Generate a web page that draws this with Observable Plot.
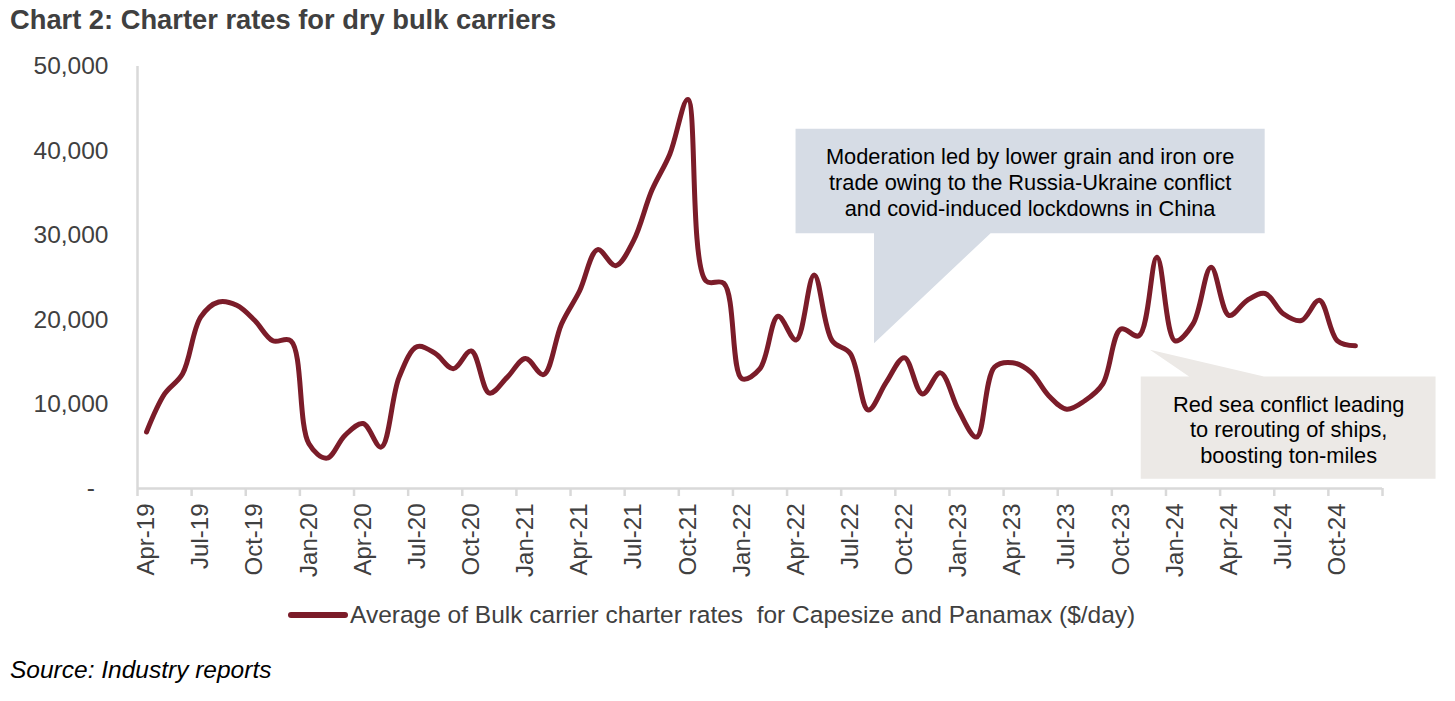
<!DOCTYPE html>
<html><head><meta charset="utf-8">
<script src="https://cdn.jsdelivr.net/npm/d3@7"></script>
<script src="https://cdn.jsdelivr.net/npm/@observablehq/plot@0.6"></script>
<style>
body{margin:0;background:#fff;font-family:"Liberation Sans",Arial,sans-serif;}
#wrap{position:relative;width:1455px;height:701px;overflow:hidden;background:#fff;}
#title{position:absolute;left:10px;top:5px;font-size:27.3px;font-weight:bold;color:#404040;line-height:30px;white-space:nowrap;}
#chart{position:absolute;left:0;top:40px;}
#legend{position:absolute;left:288px;top:600px;height:30px;display:flex;align-items:center;font-size:24.5px;color:#404040;white-space:pre;}
#legend svg{margin-right:2px;}
#caption{position:absolute;left:10px;top:655px;font-size:24.5px;font-style:italic;color:#000;line-height:30px;white-space:nowrap;}
</style></head><body>
<div id="wrap">
  <div id="title"></div>
  <div id="chart"></div>
  <div id="legend"></div>
  <div id="caption"></div>
</div>
<script>
const chartTitle = "Chart 2: Charter rates for dry bulk carriers";
const seriesName = "Average of Bulk carrier charter rates  for Capesize and Panamax ($/day)";
const sourceNote = "Source: Industry reports";

// Monthly values, Apr-19 .. Nov-24 ($/day)
const rates = [
  6700, 11200, 13600, 20300, 22100, 21700, 19900, 17500, 17500,          // Apr-19..Dec-19
  5300, 3600, 6300, 7700, 4900, 13200, 16800, 16000, 14200, 16300, 11300, 13200, // 2020
  15400, 13500, 19500, 23400, 28300, 26400, 29400, 35300, 39600, 46100, 24600, 24300, // 2021
  13000, 14200, 20400, 17600, 25300, 17500, 16000, 9300, 12600, 15500, 11200, 13700, // 2022
  9300, 6100, 14400, 14900, 13800, 11000, 9400, 10400, 12400, 18900, 18100, 27400,   // 2023
  17500, 19500, 26200, 20500, 22300, 23100, 20700, 19900, 22300, 17500, 16900        // 2024 (Jan..Nov)
];

const tickLabels = ["Apr-19","Jul-19","Oct-19","Jan-20","Apr-20","Jul-20","Oct-20","Jan-21",
  "Apr-21","Jul-21","Oct-21","Jan-22","Apr-22","Jul-22","Oct-22","Jan-23","Apr-23","Jul-23",
  "Oct-23","Jan-24","Apr-24","Jul-24","Oct-24"];
const yTicks = [0, 10000, 20000, 30000, 40000, 50000];

const calloutTexts = [
  "Moderation led by lower grain and iron ore\ntrade owing to the Russia-Ukraine conflict\nand covid-induced lockdowns in China",
  "Red sea conflict leading\nto rerouting of ships,\nboosting ton-miles"
];
// callout outlines in data units [monthIndex, value]
const callout1Shape = [[36.47,42620],[62.47,42620],[62.47,30250],[47.28,30250],[40.82,17220],[40.82,30250],[36.47,30250]];
const callout2Shape = [[55.60,13270],[58.28,13270],[56.11,16430],[62.43,13270],[71.94,13270],[71.94,1150],[55.60,1150]];
const calloutAnchors = [[49.47,36350],[63.80,7050]];
const calloutFills = ["#d6dce5","#ece9e6"];

const lineColor = "#7b1c29";
const axisColor = "#d9d9d9";
const textColor = "#404040";

document.getElementById("title").textContent = chartTitle;
document.getElementById("caption").textContent = sourceNote;
const leg = document.getElementById("legend");
leg.innerHTML = `<svg width="60" height="12"><line x1="3" y1="6" x2="57" y2="6" stroke="${lineColor}" stroke-width="6" stroke-linecap="round"/></svg><span></span>`;
leg.querySelector("span").textContent = seriesName;

const nMonths = tickLabels.length * 3; // axis spans 69 months (Apr-19 .. end of Dec-24)
const boundaries = d3.range(0, nMonths + 1, 3);
const labelPos = tickLabels.map((_, i) => i * 3 + 0.5);
const data = rates.map((v, i) => ({m: i + 0.5, v}));

const plot = Plot.plot({
  width: 1455,
  height: 560,
  marginTop: 26,
  marginBottom: 112,
  marginLeft: 137,
  marginRight: 73,
  style: {fontFamily: '"Liberation Sans", Arial, sans-serif', background: "transparent", overflow: "visible"},
  x: {type: "linear", domain: [0, nMonths], label: null},
  y: {domain: [0, 50000], label: null},
  marks: [
    Plot.line(callout1Shape, {x: d => d[0], y: d => d[1], fill: calloutFills[0], stroke: "none", curve: "linear-closed", clip: false}),
    Plot.line(callout2Shape, {x: d => d[0], y: d => d[1], fill: calloutFills[1], stroke: "none", curve: "linear-closed", clip: false}),
    Plot.ruleX([0], {y1: 0, y2: 50000, stroke: axisColor, strokeWidth: 2.5}),
    Plot.ruleY([0], {x1: 0, x2: nMonths, stroke: axisColor, strokeWidth: 2.5}),
    Plot.axisX({ticks: boundaries, tickSize: 8, tickFormat: () => "", stroke: axisColor, strokeWidth: 2.5, label: null}),
    Plot.axisX({ticks: labelPos, tickSize: 0, tickPadding: 15, tickRotate: -90,
      tickFormat: d => tickLabels[Math.round((d - 0.5) / 3)], fontSize: 24, fill: textColor, label: null}),
    Plot.axisY({ticks: yTicks, tickSize: 0, tickPadding: 29,
      tickFormat: d => d === 0 ? "-\u00a0\u00a0" : d3.format(",")(d), fontSize: 24.5, fill: textColor, label: null}),
    Plot.line(data, {x: "m", y: "v", stroke: lineColor, strokeWidth: 5, curve: "catmull-rom", strokeLinecap: "round", strokeLinejoin: "round"}),
    Plot.text(calloutTexts, {x: (d, i) => calloutAnchors[i][0], y: (d, i) => calloutAnchors[i][1], text: d => d,
      fontSize: 21.8, lineHeight: 1.18, fill: "#000", textAnchor: "middle", lineAnchor: "middle"})
  ]
});
document.getElementById("chart").appendChild(plot);
</script>
</body></html>
